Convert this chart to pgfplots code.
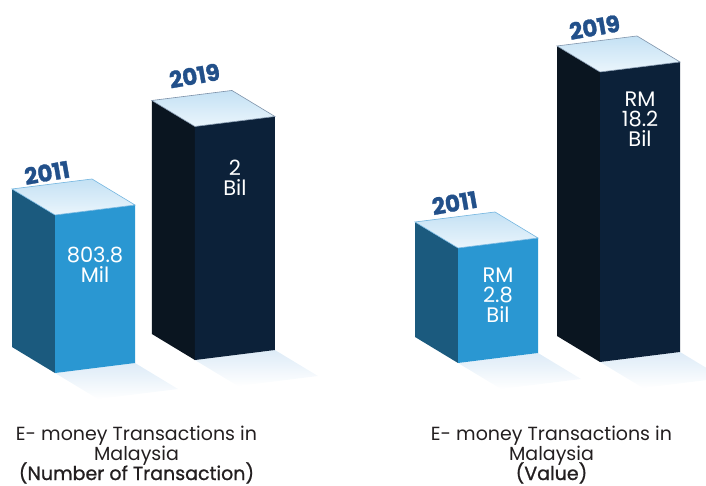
\documentclass[border=0pt]{standalone}
\usepackage{fontspec}
\setmainfont{Poppins}
\newfontfamily\popsemi{Poppins}[FakeBold=1]
\usepackage{pgfplots}
\pgfplotsset{compat=1.18}

\definecolor{sideA}{HTML}{1B5A7E}
\definecolor{frontA}{HTML}{2A97D2}
\definecolor{sideB}{HTML}{0A1520}
\definecolor{frontB}{HTML}{0C2139}
\definecolor{topback}{HTML}{C4E1F4}
\definecolor{topfront}{HTML}{EAF5FC}
\definecolor{edgeA}{HTML}{74B6E0}
\definecolor{edgeB}{HTML}{7F93AA}
\definecolor{shadowc}{HTML}{DDEBF7}
\definecolor{yearc}{HTML}{22508A}
\definecolor{capc}{HTML}{231F20}

% one 3D bar: x0, y0 (depth offset), base, value, side colour, front colour, top edge colour
\newcommand{\cuboid}[7]{%
  \pgfmathsetmacro\xa{#1}\pgfmathsetmacro\xb{#1+1}%
  \pgfmathsetmacro\ya{#2}\pgfmathsetmacro\yb{#2+1}\pgfmathsetmacro\yc{#2-1}%
  \addplot3[forget plot, draw=none, top color=shadowc, bottom color=white]
    coordinates {(\xa,\ya,#3) (\xb,\ya,#3) (\xb,\yc,#3) (\xa,\yc,#3) (\xa,\ya,#3)};
  \addplot3[forget plot, draw=none, fill=#5]
    coordinates {(\xa,\ya,#3) (\xa,\yb,#3) (\xa,\yb,#4) (\xa,\ya,#4) (\xa,\ya,#3)};
  \addplot3[forget plot, draw=none, fill=#6]
    coordinates {(\xa,\ya,#3) (\xb,\ya,#3) (\xb,\ya,#4) (\xa,\ya,#4) (\xa,\ya,#3)};
  \addplot3[forget plot, draw=#7, line width=0.6pt, top color=topback, bottom color=topfront]
    coordinates {(\xa,\ya,#4) (\xb,\ya,#4) (\xb,\yb,#4) (\xa,\yb,#4) (\xa,\ya,#4)};
}

\tikzset{
  valtxt/.style={font=\fontsize{21}{20}\selectfont, text=white, align=center, anchor=north, inner sep=0pt},
  yeartxt/.style={font=\fontsize{23}{23}\selectfont\bfseries\addfontfeatures{FakeBold=1.3}, text=yearc, rotate=10, inner sep=0pt},
  captxt/.style={font=\fontsize{19}{20}\selectfont, text=capc, anchor=base, inner sep=0pt},
}

\begin{document}
\begin{tikzpicture}
\useasboundingbox (0,0) rectangle (706pt,485pt);

% number of transactions (Mil); bars start at an offset base
\begin{axis}[at={(55pt,219.27pt)}, anchor=origin,
    x={(80pt,10pt)}, y={(-43pt,26pt)}, z={(0pt,0.06312pt)},
    hide axis, clip=false, no markers,
    xmin=-1, xmax=3, ymin=-1.5, ymax=1.5, zmin=-1700, zmax=2100]
  \cuboid{0}{0}{-1699.4}{803.8}{sideA}{frontA}{edgeA}
  \cuboid{1.672}{-0.143}{-1699.4}{2000}{sideB}{frontB}{edgeB}
  \node[valtxt, yshift=-37pt] at (axis cs:0.5,0,803.8) {803.8\\Mil};
  \node[valtxt, yshift=-38pt] at (axis cs:2.172,-0.143,2000) {2\\Bil};
  \node[yeartxt, xshift=-3pt, yshift=12pt] at (axis cs:0.5,1,803.8) {2011};
  \node[yeartxt, xshift=6pt, yshift=19pt] at (axis cs:2.172,0.857,2000) {2019};
\end{axis}

% value (RM Bil)
\begin{axis}[at={(458pt,205.2pt)}, anchor=origin,
    x={(80pt,10pt)}, y={(-43pt,26pt)}, z={(0pt,11.364pt)},
    hide axis, clip=false, no markers,
    xmin=-1, xmax=3, ymin=-1.5, ymax=1.5, zmin=-7.4, zmax=20]
  \cuboid{0}{0}{-7.32}{2.8}{sideA}{frontA}{edgeA}
  \cuboid{1.488}{-0.534}{-7.32}{18.2}{sideB}{frontB}{edgeB}
  \node[valtxt, yshift=-25pt] at (axis cs:0.5,0,2.8) {RM\\2.8\\Bil};
  \node[valtxt, yshift=-25pt] at (axis cs:1.988,-0.534,18.2) {RM\\18.2\\Bil};
  \node[yeartxt, xshift=2pt, yshift=14pt] at (axis cs:0.5,1,2.8) {2011};
  \node[yeartxt, xshift=0pt, yshift=14pt] at (axis cs:1.988,0.466,18.2) {2019};
\end{axis}

\node[captxt] at (136.5pt,44.5pt) {E- money Transactions in};
\node[captxt] at (136.5pt,24.5pt) {Malaysia};
\node[captxt] at (136.5pt,5pt) {\popsemi (Number of Transaction)};
\node[captxt] at (551.5pt,44.5pt) {E- money Transactions in};
\node[captxt] at (551.5pt,24.5pt) {Malaysia};
\node[captxt] at (551.5pt,5pt) {\popsemi (Value)};
\end{tikzpicture}
\end{document}
